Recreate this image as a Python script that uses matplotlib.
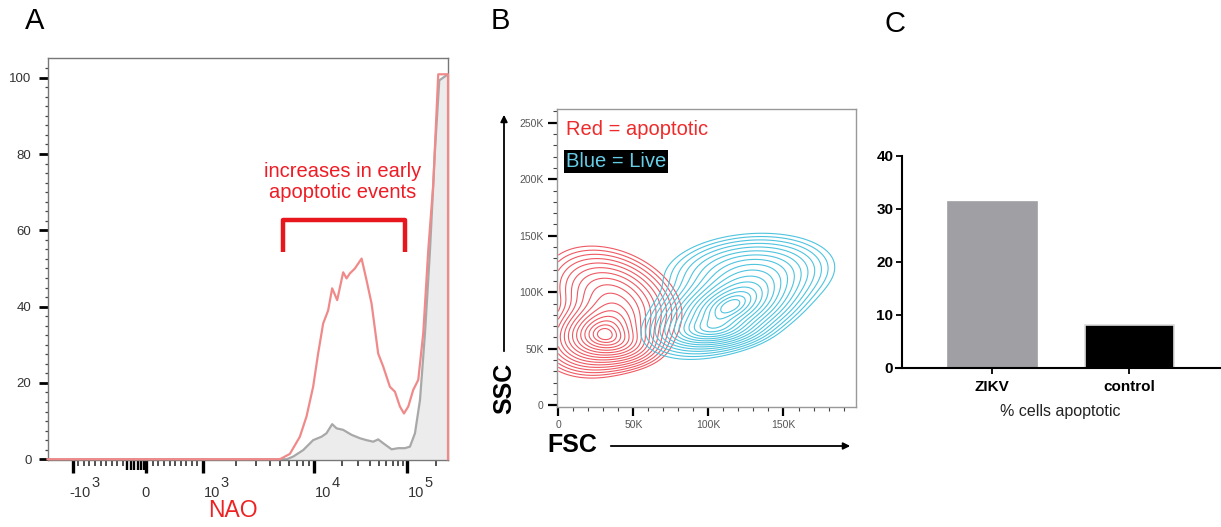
import matplotlib
matplotlib.use('Agg')
import matplotlib.pyplot as plt
import numpy as np
from matplotlib.ticker import FixedLocator, NullFormatter

plt.rcParams['font.family'] = ['Liberation Sans', 'DejaVu Sans']

# ---- panel A data : NAO histogram (percent of max) ----
RED_NAO = [-2850, 4940, 6080, 7480, 8590, 9860, 11120, 12600, 14250, 15740, 17820,
           20660, 22460, 24380, 27600, 32590, 36840, 41700, 49100, 55600, 65600,
           74300, 84100, 92900, 103100, 116000, 130400, 146600, 164900, 185400,
           208500, 262144, 262144]
RED_PCT = [0, 0, 1.4, 5.9, 11.2, 19, 27.7, 35.6, 39, 44.8, 41.7,
           49, 47.4, 48.7, 50, 52.6, 46.9, 40.8, 27.7, 24.3, 19,
           17.7, 13.8, 12, 13.8, 18.2, 20.8, 33, 54.8, 72,
           100.9, 100.9, 0]
GRAY_NAO = [-2850, 5680, 6520, 8020, 9860, 12090, 13670, 15740, 17540, 20660, 25410,
            31260, 36840, 43450, 49100, 55600, 68400, 80700, 95000, 107300, 120700,
            135800, 152700, 171800, 193100, 213600, 262144]
GRAY_PCT = [0, 0, 0.7, 2.4, 5, 5.9, 6.8, 9.2, 8.1, 7.7, 6.4,
            5.5, 5, 4.6, 5.2, 4.2, 2.6, 2.9, 2.9, 3.3, 6.8,
            15.5, 33, 54.8, 81, 99.3, 100.9]
BRACKET_NAO = [5250, 5250, 95000, 95000]
BRACKET_PCT = [54.2, 62.8, 62.8, 54.2]
NAO_MAJOR = [-1000, 0, 1000, 10000, 100000]
NAO_BASE = ['-10', '0', '10', '10', '10']
NAO_EXP = ['3', '', '3', '4', '5']

# ---- panel B data : contour populations (K units) cx, cy, sx, sy, rho, weight ----
RED_POP = [(28, 64, 15, 14, 0.15, 1.0),
           (36, 95, 18, 18, -0.3, 0.45),
           (42, 54, 12, 9, 0.0, 0.35)]
BLUE_POP = [(114, 87, 20, 16, 0.45, 1.0),
            (102, 66, 15, 7, 0.15, 0.35),
            (127, 118, 23, 14, 0.15, 0.3)]

# ---- panel C data ----
GROUPS = ['ZIKV', 'control']
PCT_APOPTOTIC = [31.2, 8.0]

# biexponential-like display axis (FlowJo style)
G_KNOTS = np.array([-10, -1, -0.1, 0, 0.1, 1, 2, 3, 1 + np.log10(262.144), 10])
P_KNOTS = np.array([-426.7, 73.3, 123.3, 146, 153.3, 203.3, 314, 407, 448, 1093])

def to_g(v):
	v = np.asarray(v, float)
	a = np.abs(v)
	return np.where(a <= 1000, v / 1000., np.sign(v) * (1 + np.log10(np.maximum(a, 1000) / 1000.)))

def from_g(g):
	g = np.asarray(g, float)
	a = np.abs(g)
	return np.where(a <= 1, g * 1000., np.sign(g) * 1000. * 10 ** (np.maximum(a, 1) - 1))

def fwd(v):
	return np.interp(to_g(v), G_KNOTS, P_KNOTS)

def inv(p):
	return from_g(np.interp(p, P_KNOTS, G_KNOTS))

def density(X, Y, pops):
	d = np.zeros_like(X)
	for cx, cy, sx, sy, rho, w in pops:
		dx = (X - cx) / sx
		dy = (Y - cy) / sy
		q = (dx * dx - 2 * rho * dx * dy + dy * dy) / (1 - rho * rho)
		d += w * np.exp(-q / 2.)
	return d

W, H = 1221., 527.
fig = plt.figure(figsize=(12.21, 5.27), dpi=100)

def px_axes(l, t, r, b):
	return fig.add_axes([l / W, 1 - b / H, (r - l) / W, (b - t) / H])

# ================= A =================
axA = px_axes(47.5, 57.5, 448, 460)
axA.set_xscale('function', functions=(fwd, inv))
axA.fill_between(GRAY_NAO, GRAY_PCT, 0, color='#ececec', lw=0, zorder=1)
axA.plot(GRAY_NAO, GRAY_PCT, color='#a8a8a8', lw=1.6, zorder=2)
axA.plot(RED_NAO, RED_PCT, color='#f08a8a', lw=1.6, zorder=3, clip_on=False)
axA.plot(BRACKET_NAO, BRACKET_PCT, color='#e8161d', lw=3.2, solid_joinstyle='round',
	solid_capstyle='butt')
axA.text(20500, 72.6, 'increases in early\napoptotic events', color='#ee1c24',
	fontsize=14.5, ha='center', va='center', linespacing=1.15)
axA.set_xlim(-2850, 262144)
axA.set_ylim(-0.2, 105.3)
axA.xaxis.set_major_locator(FixedLocator(NAO_MAJOR))
axA.xaxis.set_major_formatter(NullFormatter())
minor = list(range(-900, 0, 100)) + list(range(100, 1000, 100))
minor += [k * 1000 for k in range(2, 10)] + [k * 10000 for k in range(2, 10)] + [200000]
axA.xaxis.set_minor_locator(FixedLocator(minor))
axA.xaxis.set_minor_formatter(NullFormatter())
# dense cluster of ticks just below zero
for v in range(-80, 0, 15):
	axA.plot([v, v], [0, -0.024], transform=axA.get_xaxis_transform(), color='black',
		lw=1.7, clip_on=False, solid_capstyle='butt')
# FlowJo style decade labels: base plus a full-size raised exponent
for v, base, ex in zip(NAO_MAJOR, NAO_BASE, NAO_EXP):
	if ex == '':
		axA.annotate(base, xy=(v, 0), xycoords=('data', 'axes fraction'), xytext=(0, -37),
			textcoords='offset pixels', ha='center', va='baseline', fontsize=10.5, color='#333333')
		continue
	dx = -3 if base.startswith('-') else 1
	t = axA.annotate(base, xy=(v, 0), xycoords=('data', 'axes fraction'), xytext=(dx, -37),
		textcoords='offset pixels', ha='left', va='baseline', fontsize=10.5, color='#333333')
	axA.annotate(ex, xy=(1, 1), xycoords=t, xytext=(0, -4), textcoords='offset pixels',
		ha='left', va='bottom', fontsize=10.5, color='#333333')
axA.yaxis.set_major_locator(FixedLocator([0, 20, 40, 60, 80, 100]))
axA.yaxis.set_minor_locator(FixedLocator(np.arange(0, 105, 2.5)))
axA.tick_params(axis='x', which='major', length=9.5, width=2.4, color='black')
axA.tick_params(axis='x', which='minor', length=4, width=1.1, color='#222222')
axA.tick_params(axis='y', which='major', length=6.5, width=2, color='black', pad=5,
	labelsize=9.5, labelcolor='#333333')
axA.tick_params(axis='y', which='minor', length=2.4, width=0.9, color='#444444')
for s in axA.spines.values():
	s.set_color('#777777')
	s.set_linewidth(1)
fig.text(233 / W, 1 - 517 / H, 'NAO', color='#ee2222', fontsize=16.5, ha='center', va='baseline')
fig.text(35 / W, 1 - 21 / H, 'A', fontsize=21, ha='center', va='center')

# ================= B =================
axB = px_axes(557, 109, 856, 407)
gx = np.linspace(0, 200, 400)
gy = np.linspace(0, 262, 400)
X, Y = np.meshgrid(gx, gy)
rings = np.linspace(0.3, 2.9, 16)
for pops, col in [(RED_POP, '#ee5a64'), (BLUE_POP, '#4fc4df')]:
	D = density(X, Y, pops)
	lev = np.sort(D.max() * np.exp(-rings ** 2 / 2.))
	axB.contour(X * 1000, Y * 1000, D, levels=lev, colors=col, linewidths=0.8)
axB.set_xlim(-870, 198300)
axB.set_ylim(-1500, 262144)
axB.xaxis.set_major_locator(FixedLocator([0, 50000, 100000, 150000]))
axB.xaxis.set_minor_locator(FixedLocator(np.arange(0, 200000, 10000)))
axB.set_xticklabels(['0', '50K', '100K', '150K'])
axB.yaxis.set_major_locator(FixedLocator([0, 50000, 100000, 150000, 200000, 250000]))
axB.yaxis.set_minor_locator(FixedLocator(np.arange(0, 262144, 10000)))
axB.set_yticklabels(['0', '50K', '100K', '150K', '200K', '250K'])
axB.xaxis.set_minor_formatter(NullFormatter())
axB.yaxis.set_minor_formatter(NullFormatter())
axB.tick_params(which='major', length=6.5, width=1.6, color='black', pad=3,
	labelsize=7.5, labelcolor='#555555')
axB.tick_params(which='minor', length=3, width=0.8, color='#444444')
for s in axB.spines.values():
	s.set_color('#999999')
	s.set_linewidth(1)
axB.text(0.03, 0.93, 'Red = apoptotic', transform=axB.transAxes, color='#ee2b2b',
	fontsize=14.5, ha='left', va='center')
axB.text(0.03, 0.824, 'Blue = Live', transform=axB.transAxes, color='#66cde6',
	fontsize=14.5, ha='left', va='center',
	bbox=dict(boxstyle='square,pad=0.08', facecolor='black', edgecolor='none'))
fig.text(500 / W, 1 - 21 / H, 'B', fontsize=21, ha='center', va='center')
fig.text(504 / W, 1 - 388 / H, 'SSC', fontsize=18, fontweight='bold', rotation=90,
	ha='center', va='center')
fig.text(572 / W, 1 - 445 / H, 'FSC', fontsize=18, fontweight='bold', ha='center', va='center')
fig.add_artist(matplotlib.patches.FancyArrowPatch((504 / W, 1 - 354 / H), (504 / W, 1 - 112 / H),
	transform=fig.transFigure, arrowstyle='-|>,head_length=4,head_width=2', color='black', lw=1.3))
fig.add_artist(matplotlib.patches.FancyArrowPatch((608 / W, 1 - 446 / H), (853 / W, 1 - 446 / H),
	transform=fig.transFigure, arrowstyle='-|>,head_length=4,head_width=2', color='black', lw=1.3))

# ================= C =================
axC = px_axes(901.7, 155.7, 1221, 367.7)
xs = np.arange(len(GROUPS))
axC.bar(xs, PCT_APOPTOTIC, width=0.65, color=['#a0a0a4', '#000000'],
	edgecolor=['#a0a0a4', '#dcdcdc'], linewidth=1.2)
axC.set_xlim(-0.66, 1.67)
axC.set_ylim(0, 40)
axC.set_yticks([0, 10, 20, 30, 40])
axC.set_xticks(xs)
axC.set_xticklabels(GROUPS, fontweight='bold', fontsize=11)
for lbl in axC.get_yticklabels():
	lbl.set_fontweight('bold')
axC.tick_params(axis='y', length=4, width=1.3, pad=2, labelsize=11)
axC.tick_params(axis='x', length=4, width=1.3, pad=5)
axC.spines['top'].set_visible(False)
axC.spines['right'].set_visible(False)
axC.spines['left'].set_linewidth(1.5)
axC.spines['bottom'].set_linewidth(1.5)
axC.spines['bottom'].set_bounds(-0.705, 1.67)
axC.set_xlabel('% cells apoptotic', fontsize=11.5, color='#222222')
axC.xaxis.set_label_coords((1060 - 901.7) / (1221 - 901.7), -0.17)
fig.text(895 / W, 1 - 24 / H, 'C', fontsize=21, ha='center', va='center')

fig.savefig('out.png', dpi=100)
